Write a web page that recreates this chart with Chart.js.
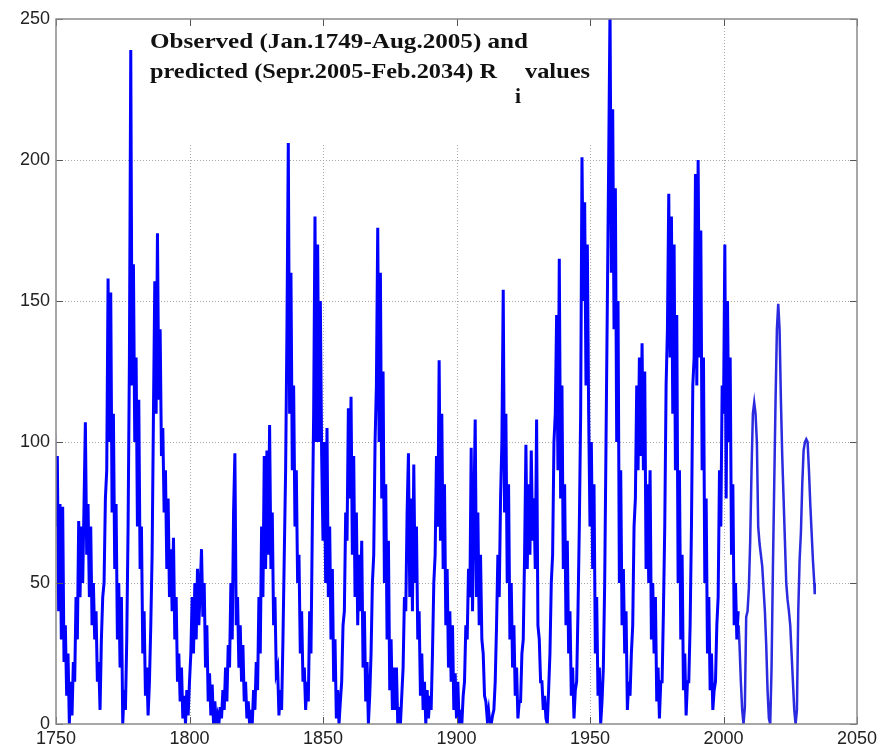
<!DOCTYPE html>
<html lang="en">
<head>
<meta charset="UTF-8">
<title>Observed and predicted sunspot numbers</title>
<script src="https://cdn.jsdelivr.net/npm/chart.js@4.4.1/dist/chart.umd.min.js"></script>
<style>
    html, body { margin: 0; padding: 0; background: #fff; }
    #wrap { width: 891px; height: 753px; position: relative; }
</style>
</head>
<body>
<div id="wrap"><canvas id="chart"></canvas></div>
<script>
// observed values, one sample every half year starting Jan 1749
const obsStart = 1749;
const obsStep = 0.5;
const obs1749 = [75, 103, 70, 95, 40, 78, 30, 77, 22, 35, 10, 25, 0, 15, 3, 22, 15, 45, 30, 72,
    45, 70, 50, 78, 107, 60, 78, 45, 70, 35, 50, 30, 40, 15, 22, 5, 30, 45, 50, 80,
    90, 158, 100, 153, 75, 110, 55, 78, 30, 50, 20, 45, 0, 12, 5, 30, 70, 130, 239, 120,
    163, 100, 130, 70, 115, 55, 70, 25, 40, 10, 20, 3, 15, 35, 60, 110, 157, 110, 174, 115,
    140, 95, 105, 75, 90, 55, 80, 45, 62, 40, 66, 30, 45, 15, 25, 8, 20, 2, 10, 0, 12, 3];
const obs1800 = [15, 25, 45, 25, 50, 30, 55, 35, 48, 62, 38, 50, 20, 35, 8, 18, 3, 14, 0, 8,
    0, 3, 0, 6, 2, 12, 5, 20, 8, 28, 20, 50, 30, 75, 96, 35, 45, 20, 35, 15,
    28, 8, 15, 2, 8, 0, 5, 0, 12, 5, 22, 12, 45, 25, 70, 45, 95, 55, 97, 60,
    106, 55, 75, 35, 45, 18, 20, 3, 12, 5, 30, 60, 90, 140, 206, 110, 160, 90, 120, 70,
    90, 50, 60, 25, 40, 15, 20, 5, 15, 8, 40, 25, 70, 110, 180, 100, 170, 100, 150, 95];
const obs1850 = [65, 100, 50, 105, 45, 70, 30, 55, 15, 30, 2, 12, 0, 8, 15, 35, 40, 75, 65, 112,
    80, 116, 60, 95, 45, 75, 35, 60, 40, 65, 20, 40, 8, 22, 0, 10, 25, 50, 60, 100,
    120, 176, 100, 160, 80, 125, 50, 85, 30, 65, 12, 30, 5, 20, 5, 20, 0, 6, 0, 10,
    20, 45, 40, 75, 96, 45, 80, 40, 92, 50, 70, 30, 40, 10, 25, 5, 15, 0, 12, 2,
    10, 5, 25, 50, 60, 95, 70, 129, 65, 110, 55, 85, 35, 55, 20, 40, 15, 35, 5, 18];
const obs1900 = [2, 15, 0, 5, 0, 10, 15, 35, 30, 55, 45, 98, 40, 75, 108, 45, 75, 35, 60, 30,
    25, 10, 8, 2, 5, 0, 0, 3, 5, 15, 35, 60, 45, 80, 100, 154, 75, 110, 50, 85,
    30, 50, 20, 35, 10, 20, 2, 8, 8, 25, 30, 60, 99, 55, 85, 60, 97, 65, 80, 55,
    108, 35, 30, 15, 15, 5, 10, 2, 0, 12, 25, 50, 60, 100, 110, 145, 90, 165, 80, 120,
    55, 85, 35, 65, 25, 40, 10, 20, 2, 12, 15, 40, 70, 110, 201, 150, 185, 120, 170, 110];
const obs1950 = [70, 100, 55, 85, 25, 45, 10, 20, 0, 8, 20, 50, 100, 150, 200, 254, 160, 218, 140, 190,
    100, 150, 50, 90, 35, 55, 25, 40, 5, 15, 10, 25, 35, 70, 80, 120, 90, 130, 95, 135,
    90, 125, 55, 85, 50, 90, 30, 50, 25, 45, 8, 20, 2, 15, 15, 40, 70, 120, 140, 188,
    130, 180, 110, 170, 90, 145, 50, 90, 30, 60, 12, 25, 3, 15, 15, 35, 70, 120, 130, 195,
    120, 200, 130, 175, 90, 130, 50, 80, 25, 45, 12, 25, 5, 12, 15, 35, 45, 90, 70, 120,
    110, 170, 80, 150, 100, 130, 60, 85, 35, 50, 30, 40];

// predicted values, Sep 2005 - Feb 2034
const predYears = [2005.67, 2006, 2006.5, 2007, 2007.5, 2008, 2008.5, 2009, 2009.5, 2010,
    2010.5, 2011, 2011.5, 2012, 2012.5, 2013, 2013.5, 2014, 2014.5, 2015,
    2015.5, 2016, 2016.5, 2017, 2017.5, 2018, 2018.5, 2019, 2019.5, 2020,
    2020.5, 2021, 2021.5, 2022, 2022.5, 2023, 2023.5, 2024, 2024.5, 2025,
    2025.5, 2026, 2026.5, 2027, 2027.5, 2028, 2028.5, 2029, 2029.5, 2030,
    2030.5, 2031, 2031.5, 2032, 2032.5, 2033, 2033.5, 2034, 2034.17];
const predValues = [35, 28, 15, 5, 0, 6, 38, 40, 48, 65,
    90, 110, 114, 110, 100, 70, 64, 60, 56, 48,
    40, 28, 12, 2, 0, 20, 55, 85, 115, 140,
    149, 140, 115, 95, 80, 65, 50, 44, 40, 35,
    25, 15, 5, 0, 5, 40, 58, 68, 85, 97,
    100, 101, 100, 90, 78, 68, 58, 50, 46];

const xTicks = [1750, 1800, 1850, 1900, 1950, 2000, 2050];
const yTicks = [0, 50, 100, 150, 200, 250];

const titleLine1 = 'Observed (Jan.1749-Aug.2005) and';
const titleLine2 = 'predicted (Sepr.2005-Feb.2034) R';
const titleSub = 'i';
const titleTail = 'values';

const observed = [].concat(obs1749, obs1800, obs1850, obs1900, obs1950)
    .map((v, i) => ({ x: obsStart + i * obsStep, y: v }));
const predicted = predYears.map((yr, i) => ({ x: yr, y: predValues[i] }));

// gridlines, inward ticks, box and the text, matlab style
const matlabAxes = {
    id: 'matlabAxes',
    beforeDatasetsDraw(chart) {
        const { ctx, chartArea: a, scales: { x, y } } = chart;
        ctx.save();
        ctx.strokeStyle = '#a8a8a8';
        ctx.lineWidth = 1;
        ctx.setLineDash([1, 2]);
        xTicks.slice(1, -1).forEach(t => {
            const px = Math.round(x.getPixelForValue(t)) + 0.5;
            ctx.beginPath(); ctx.moveTo(px, a.top); ctx.lineTo(px, a.bottom); ctx.stroke();
        });
        yTicks.slice(1, -1).forEach(t => {
            const py = Math.round(y.getPixelForValue(t)) + 0.5;
            ctx.beginPath(); ctx.moveTo(a.left, py); ctx.lineTo(a.right, py); ctx.stroke();
        });
        // text box background hides the grid under the title
        ctx.fillStyle = '#fff';
        ctx.fillRect(140, a.top + 1, 460, 143 - a.top);
        ctx.restore();
    },
    afterDatasetsDraw(chart) {
        const { ctx, chartArea: a, scales: { x, y } } = chart;
        const tl = 7;
        ctx.save();
        ctx.strokeStyle = '#555';
        ctx.lineWidth = 1;
        xTicks.forEach(t => {
            const px = Math.round(x.getPixelForValue(t)) + 0.5;
            ctx.beginPath();
            ctx.moveTo(px, a.bottom); ctx.lineTo(px, a.bottom - tl);
            ctx.moveTo(px, a.top); ctx.lineTo(px, a.top + tl);
            ctx.stroke();
        });
        yTicks.forEach(t => {
            const py = Math.round(y.getPixelForValue(t)) + 0.5;
            ctx.beginPath();
            ctx.moveTo(a.left, py); ctx.lineTo(a.left + tl, py);
            ctx.moveTo(a.right, py); ctx.lineTo(a.right - tl, py);
            ctx.stroke();
        });
        ctx.strokeStyle = '#8a8a8a';
        ctx.lineWidth = 1.5;
        ctx.strokeRect(a.left, a.top, a.right - a.left, a.bottom - a.top);
        ctx.restore();
    },
    afterDraw(chart) {
        const ctx = chart.ctx;
        const fit = (text, x0, base, width) => {
            const w = ctx.measureText(text).width;
            ctx.save();
            ctx.translate(x0, base);
            ctx.scale(width / w, 1);
            ctx.fillText(text, 0, 0);
            ctx.restore();
        };
        ctx.save();
        ctx.fillStyle = '#111';
        ctx.font = 'bold 22px "Liberation Serif", "Times New Roman", serif';
        ctx.textBaseline = 'alphabetic';
        fit(titleLine1, 150, 48, 378);
        fit(titleLine2, 150, 78, 347);
        fit(titleSub, 515, 103, 6);
        fit(titleTail, 525, 78, 65);
        ctx.restore();
    }
};

new Chart(document.getElementById('chart'), {
    type: 'line',
    data: {
        datasets: [
            {
                label: 'Observed',
                data: observed,
                borderColor: '#0000ff',
                borderWidth: 3,
                pointRadius: 0,
                tension: 0
            },
            {
                label: 'Predicted',
                data: predicted,
                borderColor: '#2a2ae0',
                borderWidth: 2.5,
                pointRadius: 0,
                tension: 0
            }
        ]
    },
    options: {
        responsive: true,
        maintainAspectRatio: false,
        animation: false,
        events: [],
        layout: { padding: { top: 19, right: 34, left: 0, bottom: 0 } },
        plugins: {
            legend: { display: false },
            tooltip: { enabled: false },
            title: { display: false }
        },
        scales: {
            x: {
                type: 'linear',
                min: 1750,
                max: 2050,
                afterFit: s => { s.height = 29; },
                afterBuildTicks: s => { s.ticks = xTicks.map(v => ({ value: v })); },
                grid: { display: false, drawTicks: false },
                border: { display: false },
                ticks: {
                    padding: 4,
                    color: '#222',
                    font: { family: '"Liberation Sans", Arial, sans-serif', size: 18 },
                    maxRotation: 0,
                    callback: v => String(v)
                }
            },
            y: {
                type: 'linear',
                min: 0,
                max: 250,
                afterFit: s => { s.width = 56; },
                afterBuildTicks: s => { s.ticks = yTicks.map(v => ({ value: v })); },
                grid: { display: false, drawTicks: false },
                border: { display: false },
                ticks: {
                    padding: 6,
                    color: '#222',
                    font: { family: '"Liberation Sans", Arial, sans-serif', size: 18 },
                    callback: v => String(v)
                }
            }
        }
    },
    plugins: [matlabAxes]
});
</script>
</body>
</html>
